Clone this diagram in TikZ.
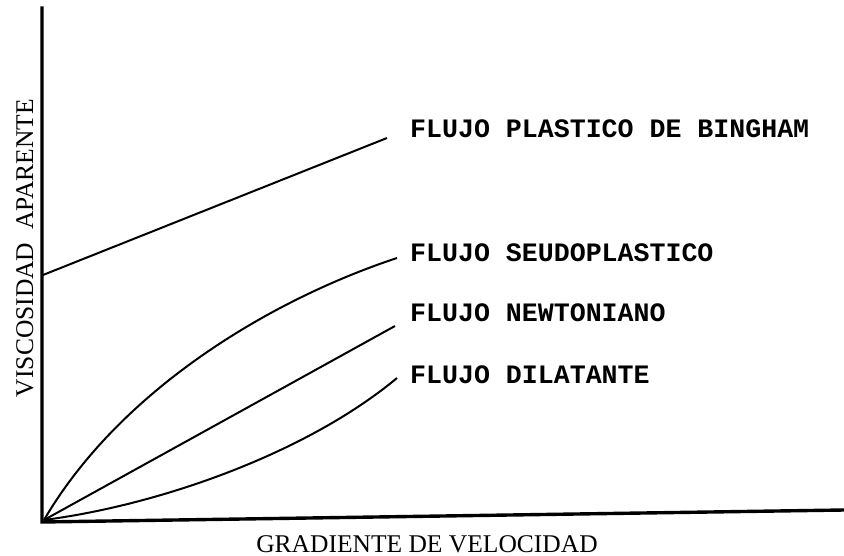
\documentclass[tikz,border=0pt]{standalone}
\usepackage{fontspec}
\setmainfont{Liberation Serif}
\newfontfamily\twfont{Liberation Mono}
\begin{document}
\begin{tikzpicture}[x=1pt,y=-1pt,
  axisline/.style={line width=3.4pt},
  curveline/.style={line width=2pt},
  curvelabel/.style={anchor=base west,inner sep=0pt,font=\twfont\bfseries\fontsize{26.6}{30}\selectfont},
  axislabel/.style={anchor=base,inner sep=0pt,font=\fontsize{25.5}{28}\selectfont}]
\useasboundingbox (0,0) rectangle (844,556);
% axes
\coordinate (top) at (42,8);
\coordinate (O) at (42,522);
\coordinate (right) at (844,510);
\draw[axisline,line cap=rect] (top) -- (O) -- (right);
% curve end points
\coordinate (o) at (44,520);
\coordinate (by0) at (43,275);
\coordinate (bye) at (387,138);
\coordinate (sde) at (397,258);
\coordinate (nwe) at (395,326);
\coordinate (dle) at (397,378);
% labels
\node[curvelabel] (lbing) at (410,138) {FLUJO PLASTICO DE BINGHAM};
\node[curvelabel] (lseud) at (410,262) {FLUJO SEUDOPLASTICO};
\node[curvelabel] (lnewt) at (410,322) {FLUJO NEWTONIANO};
\node[curvelabel] (ldila) at (410,383) {FLUJO DILATANTE};
\node[axislabel] (xlab) at (427,552) {GRADIENTE DE VELOCIDAD};
\node[axislabel,rotate=90] (ylab) at (33,248) {VISCOSIDAD\ \ APARENTE};
% curves
\draw[curveline] (by0) -- (bye);
\draw[curveline] (o) .. controls (120,390) and (270,300) .. (sde);
\draw[curveline] (o) -- (nwe);
\draw[curveline] (o) .. controls (160,505) and (307,453) .. (dle);
\end{tikzpicture}
\end{document}
